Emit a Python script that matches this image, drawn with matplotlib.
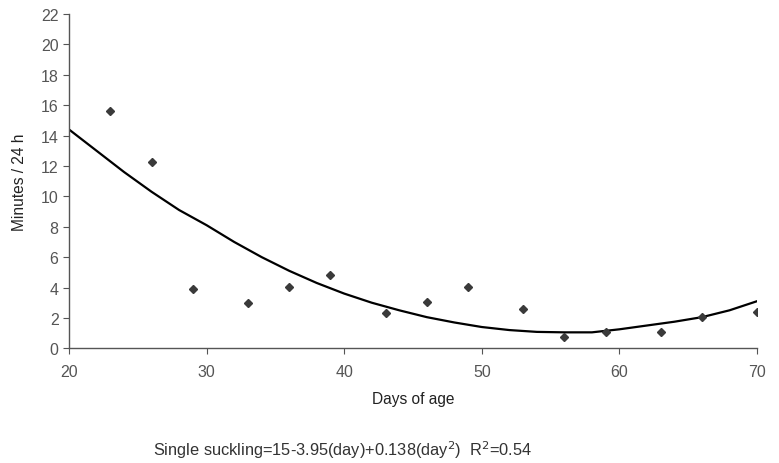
import matplotlib
matplotlib.use("Agg")
import matplotlib.pyplot as plt

plt.rcParams['font.family'] = ['Liberation Sans', 'DejaVu Sans']

# observed points (day, minutes / 24 h)
days = [23, 26, 29, 33, 36, 39, 43, 46, 49, 53, 56, 59, 63, 66, 70]
minutes = [15.6, 12.25, 3.9, 2.98, 4.05, 4.8, 2.34, 3.03, 4.05, 2.56, 0.72, 1.05, 1.05, 2.04, 2.37]

# fitted curve
fit_days = [20, 22, 24, 26, 28, 30, 32, 34, 36, 38, 40, 42, 44, 46, 48, 50, 52, 54, 56, 58, 60, 62, 64, 66, 68, 70]
fit_minutes = [14.4, 13.0, 11.6, 10.3, 9.1, 8.1, 7.0, 6.0, 5.1, 4.3, 3.6, 3.0, 2.5, 2.05, 1.7, 1.4,
               1.2, 1.08, 1.05, 1.05, 1.25, 1.5, 1.75, 2.05, 2.5, 3.1]

x_ticks = [20, 30, 40, 50, 60, 70]
y_ticks = list(range(0, 23, 2))

fig = plt.figure(figsize=(7.79, 4.64), dpi=100)
ax = fig.add_axes([0.0886, 0.2472, 0.8832, 0.7205])

ax.plot(fit_days, fit_minutes, color='black', lw=1.6, solid_joinstyle='round')
ax.plot(days, minutes, linestyle='none', marker='D', markersize=3.8, color='#3a3a3a')

ax.set_xlim(20, 70)
ax.set_ylim(0, 22)
ax.set_xticks(x_ticks)
ax.set_yticks(y_ticks)
for s in ['top', 'right']:
    ax.spines[s].set_visible(False)
for s in ['left', 'bottom']:
    ax.spines[s].set_color('#555555')
    ax.spines[s].set_linewidth(1.0)
ax.tick_params(direction='out', length=4, color='#555555', labelcolor='#555555', labelsize=11.5)
ax.tick_params(axis='x', pad=7)

ax.set_xlabel('Days of age', fontsize=11.2, labelpad=9, color='#222222')
ax.set_ylabel('Minutes / 24 h', fontsize=11.2, labelpad=10, color='#222222')

fig.text(0.44, 0.017, r'Single suckling=15-3.95(day)+0.138(day$^{2}$)  R$^{2}$=0.54',
         ha='center', va='baseline', fontsize=11.8, color='#333333')

fig.savefig('out.png', dpi=100)
